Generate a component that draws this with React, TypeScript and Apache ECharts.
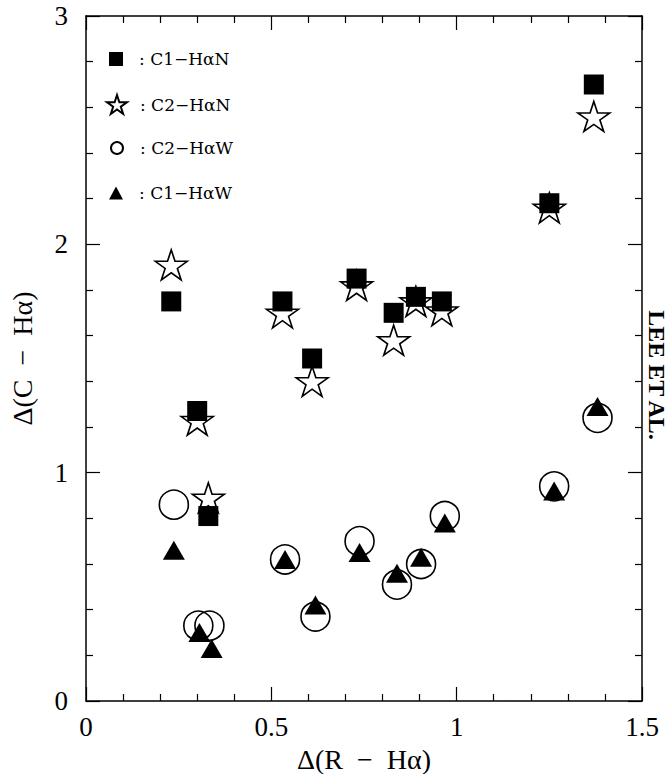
import React, { useEffect, useRef } from 'react';
import * as echarts from 'echarts';

// Δ(R − Hα), Δ(C − Hα) pairs
const c1HaN = [
  [0.23, 1.75], [0.30, 1.27], [0.33, 0.81], [0.53, 1.75], [0.61, 1.50], [0.73, 1.85],
  [0.83, 1.70], [0.89, 1.77], [0.96, 1.75], [1.25, 2.18], [1.37, 2.70],
];
const c2HaN = [
  [0.23, 1.91], [0.30, 1.23], [0.33, 0.89], [0.53, 1.70], [0.61, 1.40], [0.73, 1.82],
  [0.83, 1.58], [0.89, 1.75], [0.96, 1.71], [1.25, 2.16], [1.37, 2.56],
];
const c2HaW = [
  [0.237, 0.86], [0.303, 0.33], [0.333, 0.33], [0.537, 0.62], [0.619, 0.37], [0.738, 0.70],
  [0.839, 0.51], [0.904, 0.60], [0.968, 0.81], [1.263, 0.94], [1.38, 1.24],
];
const c1HaW = [
  [0.237, 0.66], [0.306, 0.30], [0.339, 0.23], [0.537, 0.62], [0.619, 0.42], [0.738, 0.65],
  [0.839, 0.56], [0.904, 0.63], [0.968, 0.78], [1.263, 0.92], [1.38, 1.29],
];

const seriesNames = ['C1−HαN', 'C2−HαN', 'C2−HαW', 'C1−HαW'];
const xTickLabels = ['0', '0.5', '1', '1.5'];
const yTickLabels = ['0', '1', '2', '3'];

const STAR =
  'path://M50,0 L61.2,34.5 L97.6,34.5 L68.2,55.9 L79.4,90.5 L50,69.1 L20.6,90.5 L31.8,55.9 L2.4,34.5 L38.8,34.5 Z';

const BLACK = '#000';
const SERIF = "'Liberation Serif', 'Times New Roman', serif";
const LEGEND_FONT = "'DejaVu Serif', serif";

function tickStyle(labels: boolean, isX: boolean, position: string) {
  const max = isX ? 1.5 : 3;
  const interval = isX ? 0.5 : 1;
  const labelsArr = isX ? xTickLabels : yTickLabels;
  return {
    type: 'value',
    min: 0,
    max,
    interval,
    position,
    axisLine: { show: true, onZero: false, lineStyle: { color: BLACK, width: 1.5 } },
    axisTick: { show: true, inside: true, length: 14, lineStyle: { color: BLACK, width: 1.2 } },
    minorTick: { show: true, splitNumber: 5, length: 7, lineStyle: { color: BLACK, width: 1.2 } },
    splitLine: { show: false },
    minorSplitLine: { show: false },
    axisLabel: {
      show: labels,
      fontFamily: SERIF,
      fontSize: 27,
      lineHeight: 22,
      color: BLACK,
      margin: isX ? 15 : 18,
      formatter: (v: number) => labelsArr[Math.round(v / interval)] ?? String(v),
    },
  };
}

function legendFor(name: string, icon: string, cy: number, w: number, h: number) {
  return {
    data: [{ name, icon }],
    left: 116 - w / 2,
    top: cy - 10,
    padding: 0,
    itemWidth: w,
    itemHeight: h,
    selectedMode: false,
    formatter: ': {name}',
    textStyle: {
      fontFamily: LEGEND_FONT,
      fontSize: 17,
      color: BLACK,
      lineHeight: 20,
      padding: [0, 0, 0, 18 - w / 2],
    },
  };
}

export default function App() {
  const ref = useRef<HTMLDivElement>(null);

  useEffect(() => {
    if (!ref.current) return;
    const chart = echarts.init(ref.current, undefined, { renderer: 'svg' });
    const outline = { color: 'rgba(255,255,255,0)', borderColor: BLACK, borderWidth: 1.6, opacity: 1 };
    chart.setOption({
      animation: false,
      backgroundColor: '#fff',
      grid: {
        left: 86,
        right: 29,
        top: 16,
        bottom: 73,
        containLabel: false,
        outerBoundsMode: 'none',
      },
      xAxis: [
        {
          ...tickStyle(true, true, 'bottom'),
          name: 'Δ(R  −  Hα)',
          nameLocation: 'middle',
          nameGap: 43,
          nameTextStyle: { fontFamily: SERIF, fontSize: 28, lineHeight: 28, color: BLACK },
        },
        tickStyle(false, true, 'top'),
      ],
      yAxis: [
        {
          ...tickStyle(true, false, 'left'),
          name: 'Δ(C  −  Hα)',
          nameLocation: 'middle',
          nameGap: 50,
          nameTextStyle: { fontFamily: SERIF, fontSize: 28, lineHeight: 28, color: BLACK },
        },
        tickStyle(false, false, 'right'),
      ],
      legend: [
        legendFor(seriesNames[0], 'rect', 59, 14, 14),
        legendFor(seriesNames[1], STAR, 104, 20, 19),
        legendFor(seriesNames[2], 'circle', 148, 12, 12),
        legendFor(seriesNames[3], 'triangle', 193, 14, 13),
      ],
      series: [
        {
          name: seriesNames[1],
          type: 'scatter',
          data: c2HaN,
          symbol: STAR,
          symbolSize: [32, 30],
          itemStyle: outline,
          z: 2,
          emphasis: { disabled: true },
        },
        {
          name: seriesNames[0],
          type: 'scatter',
          data: c1HaN,
          symbol: 'rect',
          symbolSize: 20,
          itemStyle: { color: BLACK, opacity: 1 },
          z: 3,
          emphasis: { disabled: true },
        },
        {
          name: seriesNames[2],
          type: 'scatter',
          data: c2HaW,
          symbol: 'circle',
          symbolSize: 29,
          itemStyle: outline,
          z: 4,
          emphasis: { disabled: true },
        },
        {
          name: seriesNames[3],
          type: 'scatter',
          data: c1HaW,
          symbol: 'triangle',
          symbolSize: [22, 19],
          itemStyle: { color: BLACK, opacity: 1 },
          z: 5,
          emphasis: { disabled: true },
        },
      ],
      graphic: [
        {
          type: 'text',
          x: 657,
          y: 375,
          rotation: -Math.PI / 2,
          style: {
            text: 'LEE ET AL.',
            fontFamily: SERIF,
            fontWeight: 'bold',
            fontSize: 24,
            fill: BLACK,
            align: 'center',
            verticalAlign: 'middle',
          },
        },
      ],
    });
    return () => chart.dispose();
  }, []);

  return (
    <div
      ref={ref}
      style={{ position: 'fixed', left: 0, top: 0, width: 671, height: 774, background: '#fff' }}
    />
  );
}
